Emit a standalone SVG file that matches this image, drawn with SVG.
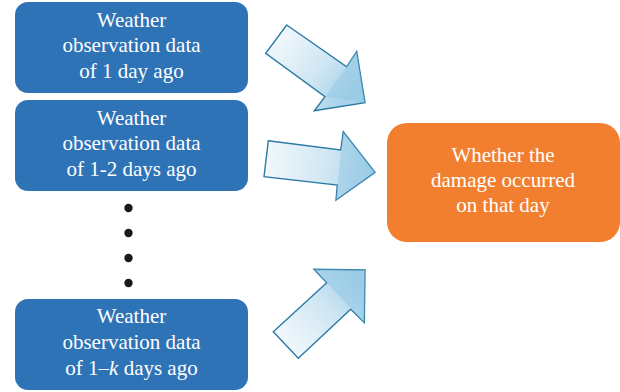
<svg xmlns="http://www.w3.org/2000/svg" width="620" height="392" viewBox="0 0 620 392">
  <style>
    .src rect { fill: #2f73b7; }
    .dst rect { fill: #f27f30; }
    text { font-family: "Liberation Serif", "Times New Roman", serif; font-size: 21px; fill: #ffffff; text-anchor: middle; }
    .arrow { stroke: #2b7aa6; stroke-width: 1.4; stroke-linejoin: miter; }
    .facet { fill: #8fc6e3; opacity: 0.45; }
    .dot { fill: #1a1a1a; }
  </style>
  <defs>
    <!-- shaft shading runs from pale tail to blue head, along each arrow's axis -->
    <linearGradient id="shade1" gradientUnits="userSpaceOnUse" x1="275" y1="38" x2="350" y2="92">
      <stop offset="0" stop-color="#f2f8fc"/>
      <stop offset="0.6" stop-color="#cfe6f3"/>
      <stop offset="1" stop-color="#a6d2ea"/>
    </linearGradient>
    <linearGradient id="shade2" gradientUnits="userSpaceOnUse" x1="265" y1="160" x2="372" y2="172">
      <stop offset="0" stop-color="#f2f8fc"/>
      <stop offset="0.6" stop-color="#cfe6f3"/>
      <stop offset="1" stop-color="#a6d2ea"/>
    </linearGradient>
    <linearGradient id="shade3" gradientUnits="userSpaceOnUse" x1="285" y1="345" x2="355" y2="282">
      <stop offset="0" stop-color="#f2f8fc"/>
      <stop offset="0.6" stop-color="#cfe6f3"/>
      <stop offset="1" stop-color="#a6d2ea"/>
    </linearGradient>
  </defs>

  <rect width="620" height="392" fill="#ffffff"/>

  <g id="node-day1" class="src">
    <rect x="15" y="2" width="233" height="91" rx="13"/>
    <text x="131.5" y="27">Weather</text>
    <text x="131.5" y="52">observation data</text>
    <text x="131.5" y="78">of 1 day ago</text>
  </g>

  <g id="node-day2" class="src">
    <rect x="15" y="100" width="233" height="91" rx="13"/>
    <text x="131.5" y="125">Weather</text>
    <text x="131.5" y="150">observation data</text>
    <text x="131.5" y="176">of 1-2 days ago</text>
  </g>

  <g id="ellipsis">
    <circle class="dot" cx="128.5" cy="208" r="4.2"/>
    <circle class="dot" cx="128.5" cy="233" r="4.2"/>
    <circle class="dot" cx="128.5" cy="258" r="4.2"/>
    <circle class="dot" cx="128.5" cy="283" r="4.2"/>
  </g>

  <g id="node-dayk" class="src">
    <rect x="15" y="299" width="233" height="91" rx="13"/>
    <text x="131.5" y="323">Weather</text>
    <text x="131.5" y="349">observation data</text>
    <text x="131.5" y="375">of 1–<tspan font-style="italic">k</tspan> days ago</text>
  </g>

  <g id="node-damage" class="dst">
    <rect x="387" y="123" width="233" height="119" rx="20"/>
    <text x="503" y="162">Whether the</text>
    <text x="503" y="187">damage occurred</text>
    <text x="503" y="212">on that day</text>
  </g>

  <g id="connectors">
    <g id="arrow-day1">
      <polygon class="arrow" fill="url(#shade1)" points="286.7,25 346.7,66.7 356.7,51.7 365,102.7 314.3,110.7 325,96.7 265.7,53.3"/>
      <polygon class="facet" points="356.7,51.7 365,102.7 325,96.7"/>
    </g>
    <g id="arrow-day2">
      <polygon class="arrow" fill="url(#shade2)" points="268.3,140.7 340.7,150 343.3,131.7 375,172.3 336,200 337.3,185 264,176.7"/>
      <polygon class="facet" points="343.3,131.7 375,172.3 336,200"/>
    </g>
    <g id="arrow-dayk">
      <polygon class="arrow" fill="url(#shade3)" points="273.3,331.7 326.7,282.7 314,269.3 365,270 364.3,322.7 350.7,309.3 298.3,358.3"/>
      <polygon class="facet" points="314,269.3 365,270 364.3,322.7"/>
    </g>
  </g>
</svg>
